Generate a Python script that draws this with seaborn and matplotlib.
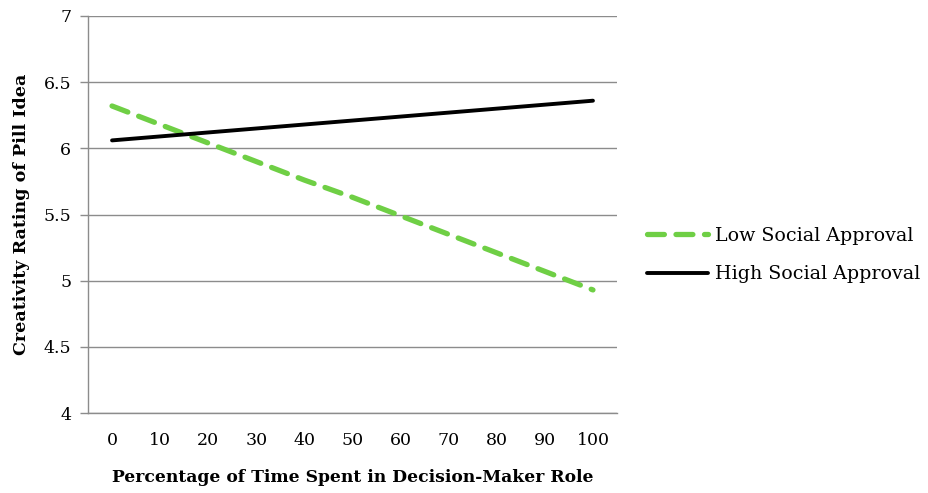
import matplotlib
matplotlib.use("Agg")
import matplotlib.pyplot as plt
import seaborn as sns
import pandas as pd
from matplotlib.lines import Line2D

x_values = [0, 10, 20, 30, 40, 50, 60, 70, 80, 90, 100]
low_social = [6.32, 6.18, 6.04, 5.90, 5.76, 5.63, 5.49, 5.35, 5.21, 5.07, 4.93]
high_social = [6.06, 6.09, 6.12, 6.15, 6.18, 6.21, 6.24, 6.27, 6.30, 6.33, 6.36]
series_names = ["Low Social Approval", "High Social Approval"]
y_ticks = [4, 4.5, 5, 5.5, 6, 6.5, 7]
y_tick_labels = ["4", "4.5", "5", "5.5", "6", "6.5", "7"]

sns.set_style("white")
plt.rcParams['font.family'] = ['DejaVu Serif']
plt.rcParams['text.color'] = 'black'
plt.rcParams['axes.labelcolor'] = 'black'
plt.rcParams['xtick.color'] = 'black'
plt.rcParams['ytick.color'] = 'black'

df = pd.DataFrame({
    "x": x_values * 2,
    "y": low_social + high_social,
    "series": [series_names[0]] * len(x_values) + [series_names[1]] * len(x_values),
})

green = "#6fcf45"
gray = "#8c8c8c"
low_lw, high_lw = 3.8, 2.8
low_dash = [3.2, 2.2]

fig = plt.figure(figsize=(9.29, 4.93), dpi=100)
ax = fig.add_axes([88 / 929, 80 / 493, 529 / 929, 397 / 493])

sns.lineplot(data=df, x="x", y="y", hue="series",
             palette={series_names[0]: green, series_names[1]: "black"},
             ax=ax, legend=False, estimator=None, sort=False)
l_low, l_high = ax.get_lines()[0], ax.get_lines()[1]
l_low.set_linewidth(low_lw)
l_low.set_dashes(low_dash)
l_low.set_dash_capstyle("round")
l_low.set_zorder(3)
l_high.set_linewidth(high_lw)
l_high.set_solid_capstyle("round")
l_high.set_zorder(4)

ax.set_xlim(-5, 105)
ax.set_ylim(4, 7)
ax.set_xticks(x_values)
ax.set_xticklabels([str(v) for v in x_values], fontsize=12.5)
ax.set_yticks(y_ticks)
ax.set_yticklabels(y_tick_labels, fontsize=12.5)
ax.yaxis.grid(True, color=gray, linewidth=1.0)
ax.xaxis.grid(False)
for s in ["top", "right"]:
    ax.spines[s].set_visible(False)
for s in ["left", "bottom"]:
    ax.spines[s].set_color(gray)
    ax.spines[s].set_linewidth(1.0)
ax.tick_params(axis="y", length=6, color=gray, width=1.0, pad=6, left=True, labelcolor="black")
ax.tick_params(axis="x", length=0, pad=14, labelcolor="black")

ax.set_xlabel("Percentage of Time Spent in Decision-Maker Role", fontsize=12.3,
              fontweight="bold", labelpad=14, color="black")
ax.set_ylabel("Creativity Rating of Pill Idea", fontsize=12.6,
              fontweight="bold", labelpad=10, color="black")

handles = [
    Line2D([], [], color=green, linewidth=low_lw, dashes=low_dash, dash_capstyle="round"),
    Line2D([], [], color="black", linewidth=high_lw, solid_capstyle="round"),
]
fig.legend(handles, series_names, loc="center left", bbox_to_anchor=(647 / 929, 1 - 255 / 493),
           frameon=False, fontsize=13.7, handlelength=3.2, handletextpad=0.4, labelspacing=1.1,
           borderaxespad=0, borderpad=0)

fig.savefig("out.png", dpi=100)
